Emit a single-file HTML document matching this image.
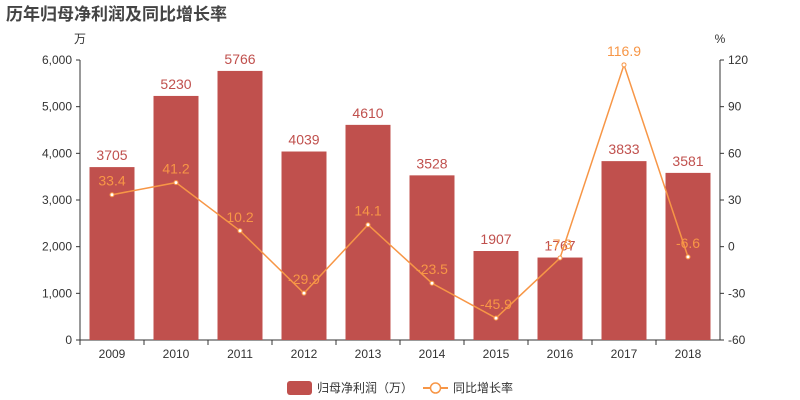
<!DOCTYPE html>
<html><head><meta charset="utf-8"><style>
body{margin:0;background:#fff;}
svg{display:block;font-family:"Liberation Sans","Noto Sans CJK SC",sans-serif;}
</style></head><body>
<svg id="chart" width="800" height="400">
<text x="6" y="20" font-size="17" font-weight="bold" fill="#444">历年归母净利润及同比增长率</text>
<text x="80" y="43" font-size="12" fill="#333" text-anchor="middle">万</text>
<text x="720" y="43" font-size="12" fill="#333" text-anchor="middle">%</text>
<g id="g"></g>
<g>
<rect x="287" y="381" width="25" height="14" rx="3" fill="#c0504d"/>
<text x="317" y="392" font-size="12" fill="#333">归母净利润（万）</text>
<line x1="423" y1="388" x2="448" y2="388" stroke="#f79646" stroke-width="2"/>
<circle cx="435.5" cy="388" r="5" fill="#fff" stroke="#f79646" stroke-width="1.5"/>
<text x="453" y="392" font-size="12" fill="#333">同比增长率</text>
</g>
</svg>
<script>
const years=["2009","2010","2011","2012","2013","2014","2015","2016","2017","2018"];
const profit=[3705,5230,5766,4039,4610,3528,1907,1767,3833,3581];
const growth=[33.4,41.2,10.2,-29.9,14.1,-23.5,-45.9,-7.3,116.9,-6.6];
const leftTicks=[0,1000,2000,3000,4000,5000,6000];
const rightTicks=[-60,-30,0,30,60,90,120];
const NS="http://www.w3.org/2000/svg";
const g=document.getElementById("g");
const L=80,R=720,T=60,B=340;
const yL=v=>B-(v/6000)*(B-T);
const yR=v=>B-((v+60)/180)*(B-T);
const step=(R-L)/years.length;
const xC=i=>L+step*(i+0.5);
function mk(tag,attrs,txt){const e=document.createElementNS(NS,tag);for(const k in attrs)e.setAttribute(k,attrs[k]);if(txt!==undefined)e.textContent=txt;g.appendChild(e);return e;}
const fmt=v=>v.toLocaleString("en-US");
leftTicks.forEach(v=>{
 const t=mk("text",{x:L-8,y:yL(v)+4,"font-size":12,fill:"#333","text-anchor":"end"},fmt(v));
 
 
 const k=mk("line",{x1:L-4,x2:L,y1:yL(v),y2:yL(v),stroke:"#333"});
 
 
});
rightTicks.forEach(v=>{
 const t=mk("text",{x:R+8,y:yR(v)+4,"font-size":12,fill:"#333","text-anchor":"start"},v);
 
 
 const k=mk("line",{x1:R,x2:R+4,y1:yR(v),y2:yR(v),stroke:"#333"});
 
 
});
let a=mk("line",{x1:L,x2:L,y1:T,y2:B,stroke:"#333"});


a=mk("line",{x1:R,x2:R,y1:T,y2:B,stroke:"#333"});


a=mk("line",{x1:L,x2:R,y1:B,y2:B,stroke:"#333"});


years.forEach((y,i)=>{
 const t=mk("text",{x:xC(i),y:B+18,"font-size":12,fill:"#333","text-anchor":"middle"},y);
 
 
 const k=mk("line",{x1:L+step*i,x2:L+step*i,y1:B,y2:B+5,stroke:"#333"});
 
 
});
profit.forEach((v,i)=>{
 const r=mk("rect",{x:xC(i)-22.5,y:yL(v),width:45,height:B-yL(v),fill:"#c0504d"});
 
 
 const t=mk("text",{x:xC(i),y:yL(v)-7,"font-size":14,fill:"#c0504d","text-anchor":"middle"},v);
 
 
});
const pts=growth.map((v,i)=>xC(i)+","+yR(v)).join(" ");
const pl=mk("polyline",{points:pts,fill:"none",stroke:"#f79646","stroke-width":1.5});


growth.forEach((v,i)=>{
 const c=mk("circle",{cx:xC(i),cy:yR(v),r:2,fill:"#fff",stroke:"#f79646","stroke-width":1});
 
 
 const t=mk("text",{x:xC(i),y:yR(v)-9,"font-size":14,fill:"#f79646","text-anchor":"middle"},v);
 
 
});
</script>
</body></html>
